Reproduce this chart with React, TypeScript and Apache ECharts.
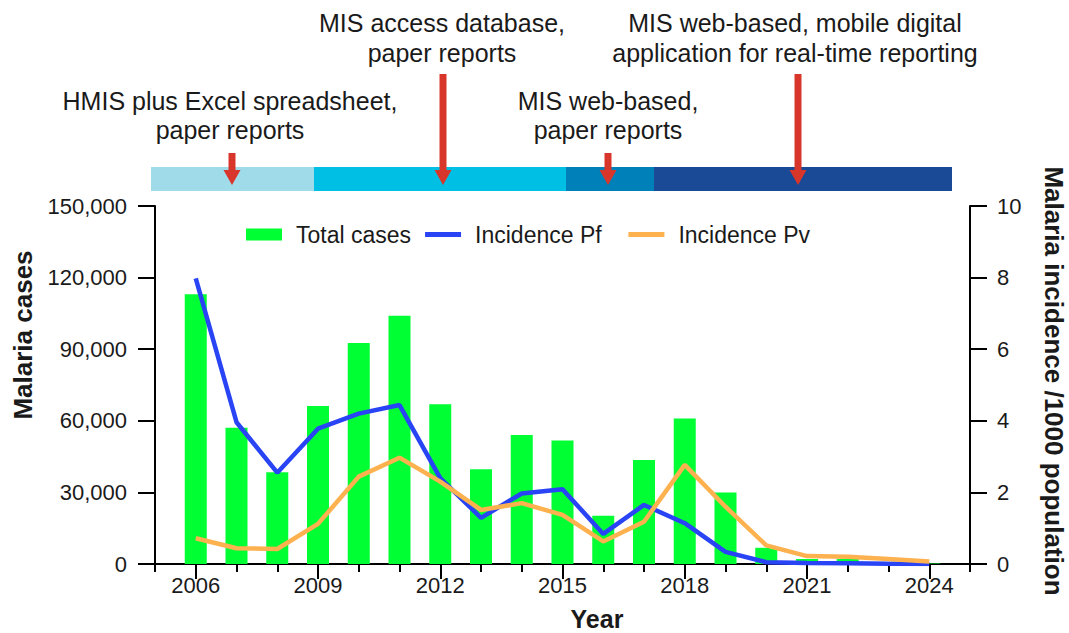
import React, { useEffect, useRef } from "react";
import * as echarts from "echarts";

const years = ["2006","2007","2008","2009","2010","2011","2012","2013","2014","2015","2016","2017","2018","2019","2020","2021","2022","2023","2024"];
const totalCases = [113000, 57100, 38400, 66200, 92600, 104000, 66900, 39700, 54000, 51700, 20200, 43600, 61000, 30000, 6800, 2100, 2100, 800, 200];
const incidencePf = [7.98, 3.96, 2.55, 3.78, 4.2, 4.44, 2.4, 1.29, 1.97, 2.09, 0.84, 1.65, 1.14, 0.34, 0.05, 0.03, 0.02, 0.01, 0.0];
const incidencePv = [0.72, 0.44, 0.42, 1.12, 2.44, 2.97, 2.3, 1.51, 1.7, 1.37, 0.63, 1.18, 2.77, 1.6, 0.52, 0.22, 0.2, 0.14, 0.07];
const leftTicks = { min: 0, max: 150000, interval: 30000 };
const rightTicks = { min: 0, max: 10, interval: 2 };

const FONT = "'Liberation Sans', Arial, Helvetica, sans-serif";
const TXT = "#1a1a1a";
const RED = "#D9362B";

const axisYears = ["2005", ...years, "2025"];
const pad = (arr: number[]) => [null, ...arr, null];
const isLabeled = (i: number) => (i - 1) % 3 === 0 && i >= 1 && i <= 19;

function arrow(cx: number, top: number) {
  return {
    type: "polygon",
    shape: {
      points: [
        [cx - 3.5, top], [cx + 3.5, top], [cx + 3.5, 170], [cx + 8.5, 170],
        [cx, 185], [cx - 8.5, 170], [cx - 3.5, 170],
      ],
    },
    style: { fill: RED },
    z: 20,
  };
}

function label(text: string, x: number, y: number) {
  return {
    type: "text",
    x, y,
    style: { text, fontSize: 25, fontFamily: FONT, fill: TXT, align: "center", verticalAlign: "middle" },
  };
}

export default function App() {
  const ref = useRef<HTMLDivElement>(null);
  useEffect(() => {
    document.body.style.margin = "0";
    if (!ref.current) return;
    const chart = echarts.init(ref.current, null, { renderer: "svg" });
    const axisLineStyle = { color: "#000", width: 2 };
    chart.setOption({
      animation: false,
      backgroundColor: "#fff",
      grid: { left: 155, right: 99, top: 206, bottom: 69, containLabel: false },
      legend: {
        left: 246,
        top: 223,
        padding: 0,
        itemWidth: 36,
        itemHeight: 12,
        itemGap: 14,
        itemStyle: { borderWidth: 0 },
        textStyle: { fontSize: 23, fontFamily: FONT, color: TXT, padding: [0, 0, 0, 9] },
        formatter: (name: string) => (name === "Incidence Pf" ? name + "  " : name),
        data: [
          { name: "Total cases", icon: "rect" },
          { name: "Incidence Pf", icon: "path://M0,0H36V5H0Z" },
          { name: "Incidence Pv", icon: "path://M0,0H36V5H0Z" },
        ],
      },
      xAxis: [
        {
          type: "category",
          data: axisYears,
          boundaryGap: false,
          axisLine: { lineStyle: axisLineStyle },
          axisTick: { show: true, length: 8, interval: 0, lineStyle: { color: "#000", width: 2 } },
          axisLabel: {
            interval: (i: number) => isLabeled(i),
            margin: 10,
            fontSize: 22,
            fontFamily: FONT,
            color: TXT,
          },
          splitLine: { show: false },
        },
        {
          type: "category",
          data: axisYears,
          boundaryGap: false,
          position: "bottom",
          axisLine: { show: false },
          axisTick: { show: true, length: 15, interval: (i: number) => isLabeled(i), lineStyle: { color: "#000", width: 2 } },
          axisLabel: { show: false },
          splitLine: { show: false },
        },
      ],
      yAxis: [
        {
          type: "value",
          ...leftTicks,
          axisLine: { show: true, lineStyle: axisLineStyle },
          axisTick: { show: true, length: 17, lineStyle: { color: "#000", width: 2 } },
          axisLabel: {
            margin: 28,
            fontSize: 22,
            fontFamily: FONT,
            color: TXT,
            formatter: (v: number) => v.toLocaleString("en-US"),
          },
          splitLine: { show: false },
        },
        {
          type: "value",
          position: "right",
          ...rightTicks,
          axisLine: { show: true, lineStyle: axisLineStyle },
          axisTick: { show: true, length: 17, lineStyle: { color: "#000", width: 2 } },
          axisLabel: { margin: 27, fontSize: 22, fontFamily: FONT, color: TXT },
          splitLine: { show: false },
        },
      ],
      series: [
        {
          name: "Total cases",
          type: "bar",
          xAxisIndex: 0,
          yAxisIndex: 0,
          data: pad(totalCases),
          barWidth: 22,
          itemStyle: { color: "#00FF33" },
          z: 2,
        },
        {
          name: "Incidence Pf",
          type: "line",
          xAxisIndex: 0,
          yAxisIndex: 1,
          data: pad(incidencePf),
          symbol: "none",
          lineStyle: { width: 4.5, color: "#2844F5" },
          itemStyle: { color: "#2844F5" },
          z: 3,
        },
        {
          name: "Incidence Pv",
          type: "line",
          xAxisIndex: 0,
          yAxisIndex: 1,
          data: pad(incidencePv),
          symbol: "none",
          lineStyle: { width: 4.5, color: "#FDB14F" },
          itemStyle: { color: "#FDB14F" },
          z: 4,
        },
      ],
      graphic: [
        { type: "rect", shape: { x: 151, y: 167, width: 163, height: 24 }, style: { fill: "#A0DBEA" } },
        { type: "rect", shape: { x: 314, y: 167, width: 252, height: 24 }, style: { fill: "#00BFE4" } },
        { type: "rect", shape: { x: 566, y: 167, width: 88, height: 24 }, style: { fill: "#0080B8" } },
        { type: "rect", shape: { x: 654, y: 167, width: 298, height: 24 }, style: { fill: "#1A4A96" } },
        arrow(232, 153),
        arrow(443, 74),
        arrow(608, 153),
        arrow(798, 74),
        label("HMIS plus Excel spreadsheet,", 230, 101),
        label("paper reports", 230, 130),
        label("MIS access database,", 442, 23),
        label("paper reports", 442, 53),
        label("MIS web-based,", 608, 101),
        label("paper reports", 608, 130),
        label("MIS web-based, mobile digital", 795, 23),
        label("application for real-time reporting", 795, 53),
        {
          type: "text", x: 23, y: 335, rotation: Math.PI / 2,
          style: { text: "Malaria cases", fontSize: 26, fontWeight: "bold", fontFamily: FONT, fill: TXT, align: "center", verticalAlign: "middle" },
        },
        {
          type: "text", x: 1054, y: 381, rotation: -Math.PI / 2,
          style: { text: "Malaria incidence /1000 population", fontSize: 26, fontWeight: "bold", fontFamily: FONT, fill: TXT, align: "center", verticalAlign: "middle" },
        },
        {
          type: "text", x: 597, y: 619,
          style: { text: "Year", fontSize: 25, fontWeight: "bold", fontFamily: FONT, fill: TXT, align: "center", verticalAlign: "middle" },
        },
      ],
    });
    return () => chart.dispose();
  }, []);
  return <div ref={ref} style={{ width: 1069, height: 633 }} />;
}
